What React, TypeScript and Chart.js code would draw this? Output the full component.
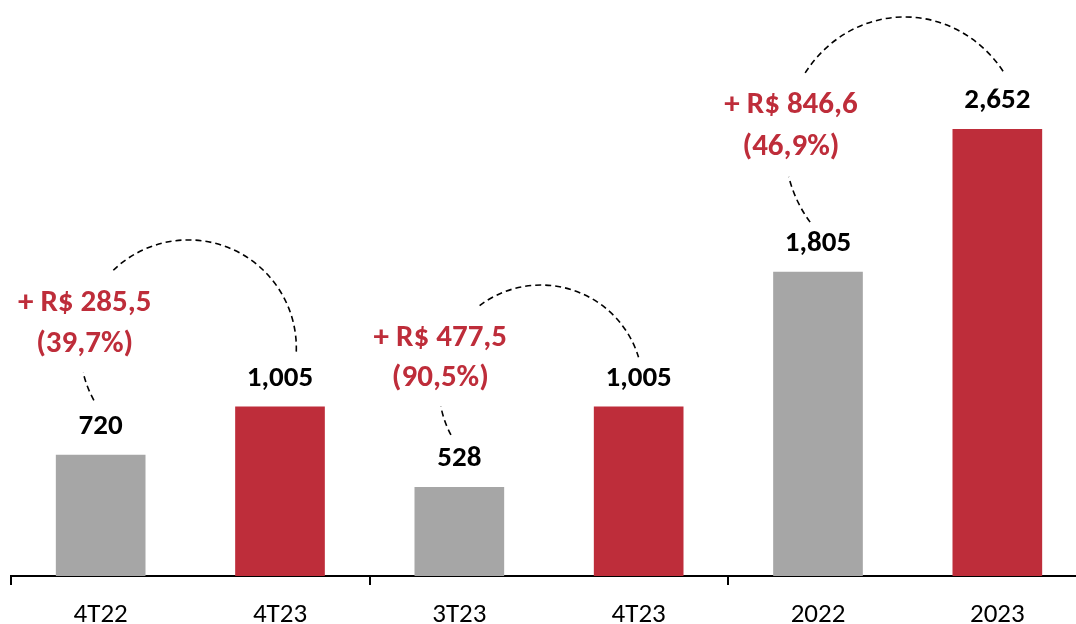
import React, { useEffect, useRef } from "react";
import { Chart, registerables } from "chart.js";

Chart.register(...registerables);

const categories = ["4T22", "4T23", "3T23", "4T23", "2022", "2023"];
const values = [720, 1005, 528, 1005, 1805, 2652];
const valueLabels = ["720", "1,005", "528", "1,005", "1,805", "2,652"];
const GREY = "#A6A6A6";
const RED = "#BE2D3A";
const barColors = [GREY, RED, GREY, RED, GREY, RED];

// pairs compared and their variation labels
const pairs = [
  [0, 1],
  [2, 3],
  [4, 5],
];
const changeLines = [
  ["+ R$ 285,5", "(39,7%)"],
  ["+ R$ 477,5", "(90,5%)"],
  ["+ R$ 846,6", "(46,9%)"],
];

// annotation layout (offsets in px relative to bars, heights in axis units)
const annoLayout = [
  { textDx: -16, textY: [1620, 1377], arcDx: -2, arcCy: 1353, rx: 108, ry: 108, segs: [[151, 167], [226, 364]] },
  { textDx: -19, textY: [1412, 1175], arcDx: -8, arcCy: 1121, rx: 102, ry: 102, segs: [[152, 169], [233, 343]] },
  { textDx: -27, textY: [2794, 2545], arcDx: -3, arcCy: 2563, rx: 120, ry: 127, segs: [[142, 165], [214, 326]] },
];

const FONT = "Carlito, Lato, 'Open Sans', sans-serif";

const labelPlugin = {
  id: "labels",
  afterDatasetsDraw(chart: any) {
    const { ctx } = chart;
    const x = chart.scales.x;
    const y = chart.scales.y;
    const meta = chart.getDatasetMeta(0);
    ctx.save();
    // value labels
    ctx.fillStyle = "#000";
    ctx.font = `bold 29px ${FONT}`;
    ctx.textAlign = "center";
    ctx.textBaseline = "middle";
    meta.data.forEach((bar: any, i: number) => {
      ctx.fillText(valueLabels[i], bar.x, bar.y - 28);
    });
    // variation annotations
    pairs.forEach((p, k) => {
      const lay = annoLayout[k];
      const x0 = x.getPixelForValue(p[0]);
      const x1 = x.getPixelForValue(p[1]);
      const mid = (x0 + x1) / 2;
      ctx.fillStyle = RED;
      ctx.font = `bold 31px ${FONT}`;
      changeLines[k].forEach((t, j) => {
        ctx.fillText(t, x0 + lay.textDx, y.getPixelForValue(lay.textY[j]));
      });
      ctx.strokeStyle = "#000";
      ctx.lineWidth = 1.6;
      ctx.setLineDash([6, 4]);
      const cy = y.getPixelForValue(lay.arcCy);
      lay.segs.forEach((s) => {
        ctx.beginPath();
        ctx.ellipse(mid + lay.arcDx, cy, lay.rx, lay.ry, 0, (s[0] * Math.PI) / 180, (s[1] * Math.PI) / 180);
        ctx.stroke();
      });
      ctx.setLineDash([]);
    });
    ctx.restore();
  },
};

export default function App() {
  const ref = useRef<HTMLCanvasElement>(null);
  useEffect(() => {
    if (!ref.current) return;
    const chart = new Chart(ref.current, {
      type: "bar",
      data: {
        labels: categories,
        datasets: [
          {
            data: values,
            backgroundColor: barColors,
            borderWidth: 0,
            barPercentage: 0.5,
            categoryPercentage: 1.0,
          },
        ],
      },
      options: {
        animation: false,
        responsive: true,
        maintainAspectRatio: false,
        layout: { padding: { left: 11, right: 11, top: 0, bottom: 0 } },
        plugins: { legend: { display: false }, tooltip: { enabled: false } },
        scales: {
          x: {
            afterFit: (s: any) => {
              s.height = 48;
            },
            grid: {
              offset: true,
              drawOnChartArea: false,
              tickLength: 9,
              lineWidth: 2,
              color: (c: any) => (typeof c.index === "number" && c.index % 2 === 0 ? "#000" : "rgba(0,0,0,0)"),
            },
            border: { display: true, color: "#000", width: 2 },
            ticks: {
              color: "#000",
              font: { family: FONT, size: 27 },
              padding: 14,
              maxRotation: 0,
            },
          },
          y: { display: false, min: 0, max: 3417 },
        },
      },
      plugins: [labelPlugin],
    });
    return () => chart.destroy();
  }, []);
  return (
    <div style={{ position: "fixed", left: 0, top: 0, width: 1076, height: 624, overflow: "hidden", background: "#fff" }}>
      <div style={{ position: "relative", width: 1098, height: 624 }}>
        <canvas ref={ref} />
      </div>
    </div>
  );
}
